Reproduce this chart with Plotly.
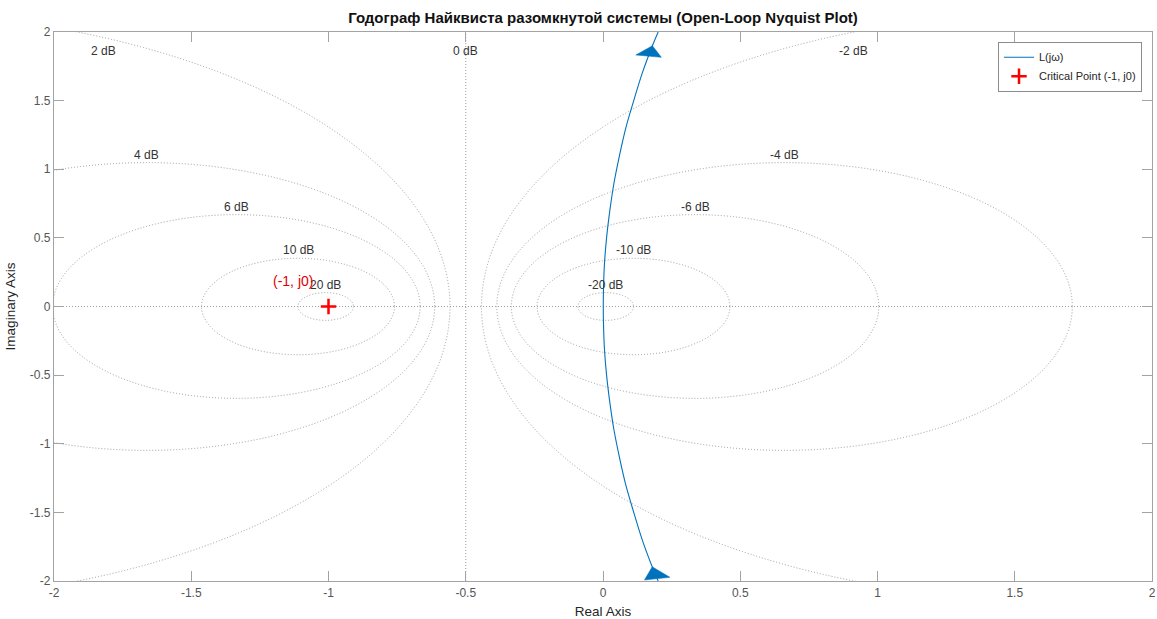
import numpy as np
import plotly.graph_objects as go

# ---------------- data ----------------
title_text = "Годограф Найквиста разомкнутой системы (Open-Loop Nyquist Plot)"

# Open-loop frequency response L(jw) (Real, Imag)
re_L = [0.201, 0.180, 0.143, 0.112, 0.083, 0.060, 0.040, 0.025, 0.013, 0.005, 0.0015, 0.001,
        0.0015, 0.005, 0.013, 0.025, 0.040, 0.060, 0.083, 0.112, 0.143, 0.180, 0.201]
im_L = [-2.0, -1.9, -1.7, -1.5, -1.3, -1.1, -0.9, -0.7, -0.5, -0.3, -0.1, 0.0,
        0.1, 0.3, 0.5, 0.7, 0.9, 1.1, 1.3, 1.5, 1.7, 1.9, 2.0]

# Critical point
crit_re = [-1]
crit_im = [0]
crit_label = "(-1, j0)"

# Constant closed-loop magnitude (M-circle) grid, in dB
m_db = [20, 10, 6, 4, 2, 0, -2, -4, -6, -10, -20]

# Axis ticks
tick_vals = [-2, -1.5, -1, -0.5, 0, 0.5, 1, 1.5, 2]
tick_text = ["-2", "-1.5", "-1", "-0.5", "0", "0.5", "1", "1.5", "2"]

# ---------------- styling ----------------
FONT = "Liberation Sans, Arial, Helvetica, sans-serif"
BLUE = "#0072BD"
GRID = "rgba(140,140,140,0.85)"
GRID_DASH = "1px,2px"
AX = "#a3a3a3"
XR = [-2, 2]
YR = [-2, 2]
W, H = 1157, 619
ML, MR, MT, MB = 54, 5, 32, 38
SX = (W - ML - MR) / (XR[1] - XR[0])   # px per data unit
SY = (H - MT - MB) / (YR[1] - YR[0])

fig = go.Figure()

# M-circles as shapes (clipped to the plot area)
shapes = []
annotations = []
for db in m_db:
    if db == 0:
        shapes.append(dict(type="line", xref="x", yref="y", x0=-0.5, x1=-0.5, y0=YR[0], y1=YR[1],
                           line=dict(color=GRID, width=1, dash=GRID_DASH), layer="below"))
        lx, ly = -0.5, 1.80
    else:
        M = 10 ** (db / 20)
        c = -M * M / (M * M - 1)
        r = abs(M / (M * M - 1))
        shapes.append(dict(type="circle", xref="x", yref="y", x0=c - r, x1=c + r, y0=-r, y1=r,
                           line=dict(color=GRID, width=1, dash=GRID_DASH), layer="below"))
        if r <= YR[1]:
            lx, ly = c, r
        else:
            dx = np.sqrt(r * r - YR[1] ** 2)
            lx = c + dx if c < 0 else c - dx
            lx = float(np.clip(lx, -1.82, 1.82))
            ly = 1.80
    annotations.append(dict(x=lx, y=ly, xref="x", yref="y", text=f"{db} dB", showarrow=False,
                            xanchor="center", yanchor="bottom", yshift=-1,
                            font=dict(family=FONT, size=12, color="#333333")))

# real axis dotted line
shapes.append(dict(type="line", xref="x", yref="y", x0=XR[0], x1=XR[1], y0=0, y1=0,
                   line=dict(color=GRID, width=1, dash=GRID_DASH), layer="below"))

# Nyquist curve
fig.add_trace(go.Scatter(x=re_L, y=im_L, mode="lines", name="L(jω)",
                         line=dict(color=BLUE, width=1.1, shape="spline", smoothing=1.0)))

# direction arrows built from the curve (arrow geometry in data units, like MATLAB)
def arrow(tip_y, back_y, half_w):
    tx = float(np.interp(tip_y, im_L, re_L))
    bx = float(np.interp(back_y, im_L, re_L))
    d = np.array([tx - bx, tip_y - back_y])
    d = d / np.linalg.norm(d)
    p = np.array([d[1], -d[0]]) * half_w
    xs = [tx, bx + p[0], bx - p[0], tx]
    ys = [tip_y, back_y + p[1], back_y - p[1], tip_y]
    return xs, ys

for ty, by in [(1.90, 1.824), (-1.896, -1.983)]:
    ax_, ay_ = arrow(ty, by, 13 / SX)
    fig.add_trace(go.Scatter(x=ax_, y=ay_, mode="lines", fill="toself", fillcolor=BLUE,
                             line=dict(color=BLUE, width=0.5), showlegend=False, hoverinfo="skip"))

# Critical point
fig.add_trace(go.Scatter(x=crit_re, y=crit_im, mode="markers", name="Critical Point (-1, j0)",
                         marker=dict(symbol="cross-thin", size=11, color="red",
                                     line=dict(color="red", width=2.5))))

annotations.append(dict(x=crit_re[0] - 0.128, y=crit_im[0] + 0.186, xref="x", yref="y",
                        text=crit_label, showarrow=False, xanchor="center", yanchor="middle",
                        font=dict(family=FONT, size=14, color="#e00000")))

axis_common = dict(range=XR, tickvals=tick_vals, ticktext=tick_text, ticks="inside", ticklen=10,
                   tickcolor=AX, tickwidth=1, showline=True, linecolor=AX, linewidth=1.2,
                   mirror="ticks", showgrid=False, zeroline=False, fixedrange=True,
                   tickfont=dict(family=FONT, size=12, color="#555555"))

fig.update_layout(
    width=W, height=H,
    margin=dict(l=ML, r=MR, t=MT, b=MB, autoexpand=False),
    paper_bgcolor="white", plot_bgcolor="white",
    title=dict(text=f"<b>{title_text}</b>", x=(ML + (W - ML - MR) / 2) / W, xanchor="center",
               y=1 - 17.5 / H, yanchor="middle", font=dict(family=FONT, size=15, color="#111111")),
    xaxis=dict(axis_common, title=dict(text="Real Axis", standoff=8,
                                       font=dict(family=FONT, size=13.5, color="#262626"))),
    yaxis=dict(axis_common, range=YR,
               title=dict(text="Imaginary Axis", standoff=11,
                          font=dict(family=FONT, size=13.5, color="#262626"))),
    showlegend=True,
    legend=dict(x=(1142 - ML) / (W - ML - MR), y=1 - (41.7 - MT) / (H - MT - MB),
                xanchor="right", yanchor="top", bgcolor="white", bordercolor="#8c8c8c",
                borderwidth=1, font=dict(family=FONT, size=11, color="#262626"),
                tracegroupgap=0, itemwidth=30),
    shapes=shapes,
    annotations=annotations,
)

fig.write_html("out.html")
